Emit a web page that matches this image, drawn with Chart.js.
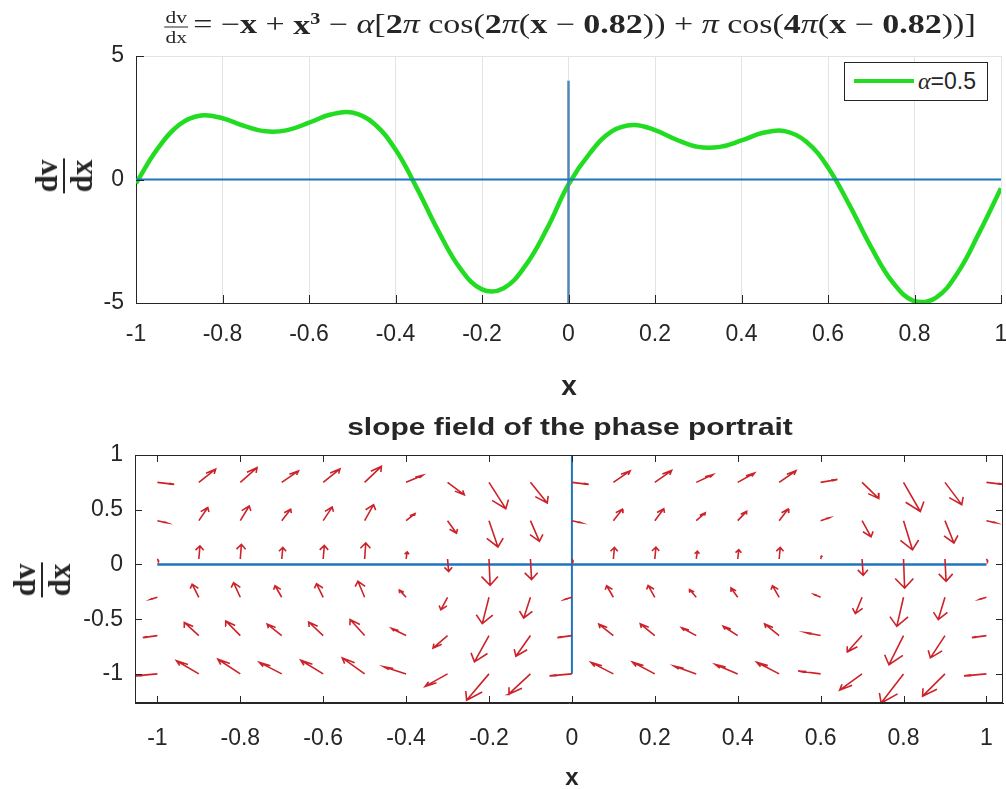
<!DOCTYPE html>
<html>
<head>
<meta charset="utf-8">
<script src="https://cdn.jsdelivr.net/npm/chart.js@4.4.1/dist/chart.umd.min.js"></script>
<style>
  body { margin: 0; background: #fff; width: 1006px; height: 789px; position: relative; overflow: hidden;
         font-family: "Liberation Sans", Arial, sans-serif; color: #262626; }
  canvas { position: absolute; left: 0; }
  .abs { position: absolute; white-space: nowrap; transform: translate(-50%, -50%); }
  .ttl { font-family: "Liberation Serif", "DejaVu Serif", serif; font-size: 27px; }
  .ttl b { font-weight: bold; }
  .frac { display: inline-flex; flex-direction: column; align-items: center; vertical-align: middle; line-height: 1; }
  .frac > span:first-child { border-bottom: 1.4px solid #262626; padding: 0 1px 1px; }
  .frac > span:last-child { padding-top: 1px; }
  .ttl .frac { font-size: 17px; margin-right: 4px; }
  .ylab { font-family: "Liberation Serif", "DejaVu Serif", serif; font-weight: bold; font-size: 31px; }
  .ylab .frac > span:first-child { border-bottom-width: 2.5px; }
  .xlab { font-weight: bold; font-size: 28px; }
  .sub { font-weight: bold; font-size: 23px; }
  #legend { position: absolute; left: 844px; top: 62px; width: 142px; height: 37px; border: 1px solid #262626;
            background: #fff; }
  #legend .swatch { position: absolute; left: 9px; top: 16px; width: 60px; height: 4px; background: #22dc22; }
  #legend .txt { position: absolute; left: 73px; top: 5px; font-size: 23px; }
  #legend i { font-family: "Liberation Serif", serif; font-size: 24px; }
</style>
</head>
<body>
<canvas id="topChart" width="1006" height="370" style="top:0"></canvas>
<canvas id="fieldChart" width="1006" height="409" style="top:380px"></canvas>

<div id="t1" class="abs ttl" style="left:570px; top:27px">
  <span class="frac"><span>dv</span><span>dx</span></span>= −<b>x</b> + <b>x<sup style="font-size:16px">3</sup></b> − <i>α</i>[<b>2</b><i>π</i> cos(<b>2</b><i>π</i>(<b>x</b> − <b>0.82</b>)) + <i>π</i> cos(<b>4</b><i>π</i>(<b>x</b> − <b>0.82</b>))]
</div>
<div class="abs ylab" style="left:64px; top:176px; transform:translate(-50%,-50%) rotate(-90deg)">
  <span class="frac"><span>dv</span><span>dx</span></span>
</div>
<div class="abs xlab" style="left:569px; top:386px">x</div>
<div id="legend"><div class="swatch"></div><div class="txt"><i>α</i>=0.5</div></div>

<div id="t2" class="abs sub" style="left:570px; top:427px">slope field of the phase portrait</div>
<div class="abs ylab" style="left:42px; top:580px; transform:translate(-50%,-50%) rotate(-90deg)">
  <span class="frac"><span>dv</span><span>dx</span></span>
</div>
<div class="abs xlab" style="left:572px; top:777px; font-size:24px">x</div>

<script>
// dv/dx curve (alpha = 0.5)
const curveX = [-1, -0.95, -0.9, -0.85, -0.8, -0.75, -0.7, -0.65, -0.6, -0.55, -0.5, -0.45, -0.4, -0.35,
  -0.3, -0.25, -0.2, -0.15, -0.1, -0.05, 0, 0.05, 0.1, 0.15, 0.2, 0.25, 0.3, 0.35, 0.4, 0.45, 0.5,
  0.55, 0.6, 0.65, 0.7, 0.75, 0.8, 0.85, 0.9, 0.95, 1];
const curveY = [-0.15, 1.25, 2.22, 2.59, 2.48, 2.17, 1.95, 2.00, 2.30, 2.63, 2.71, 2.27, 1.21, -0.37,
  -2.12, -3.61, -4.45, -4.40, -3.50, -2.00, -0.2, 1.08, 1.95, 2.21, 2.00, 1.61, 1.32, 1.32, 1.58, 1.89, 1.96,
  1.53, 0.49, -1.05, -2.75, -4.17, -4.93, -4.78, -3.77, -2.14, -0.35];

// blue reference lines
const axisLineX = [-1, 1];
const topStemY = [-5, 4];
const fieldStemY = [-1, 1];

// slope field grid
const fieldX = [-1, -0.9, -0.8, -0.7, -0.6, -0.5, -0.4, -0.3, -0.2, -0.1, 0, 0.1, 0.2, 0.3, 0.4, 0.5, 0.6, 0.7, 0.8, 0.9, 1];
const fieldY = [-1, -0.65, -0.3, 0.05, 0.4, 0.75];
const fieldSlope = [-0.34, 2.22, 2.48, 1.95, 2.30, 2.71, 1.21, -2.12, -4.45, -3.50, -0.34, 1.95, 2.00, 1.32, 1.58,
  1.96, 0.49, -2.75, -4.93, -3.77, -0.34];

// ticks
const xTicks = [-1, -0.8, -0.6, -0.4, -0.2, 0, 0.2, 0.4, 0.6, 0.8, 1];
const xTickLabels = ["-1", "-0.8", "-0.6", "-0.4", "-0.2", "0", "0.2", "0.4", "0.6", "0.8", "1"];
const topYTicks = [-5, 0, 5];
const topYTickLabels = ["-5", "0", "5"];
const fieldYTicks = [-1, -0.5, 0, 0.5, 1];
const fieldYTickLabels = ["-1", "-0.5", "0", "0.5", "1"];

const ink = "#262626";
const gridGray = "#e3e3e3";
const green = "#22dc22";
const blue = "#1f74bf";
const red = "#cc2229";

// ticks pointing into the plot, matlab style
const innerTicks = {
  id: "innerTicks",
  afterDraw(chart, args, opts) {
    const { ctx, chartArea: a, scales } = chart;
    const L = opts.len;
    ctx.save();
    ctx.strokeStyle = ink;
    ctx.lineWidth = 1;
    ctx.beginPath();
    scales.x.ticks.forEach((t) => {
      const px = Math.round(scales.x.getPixelForValue(t.value)) + 0.5;
      ctx.moveTo(px, a.bottom); ctx.lineTo(px, a.bottom - L);
      if (opts.box) { ctx.moveTo(px, a.top); ctx.lineTo(px, a.top + L); }
    });
    scales.y.ticks.forEach((t) => {
      const py = Math.round(scales.y.getPixelForValue(t.value)) + 0.5;
      ctx.moveTo(a.left, py); ctx.lineTo(a.left + L, py);
      if (opts.box) { ctx.moveTo(a.right, py); ctx.lineTo(a.right - L, py); }
    });
    ctx.stroke();
    if (opts.box) {
      ctx.strokeRect(Math.round(a.left) + 0.5, Math.round(a.top) + 0.5,
        Math.round(a.right - a.left) - 1, Math.round(a.bottom - a.top) - 1);
    }
    ctx.restore();
  }
};

function fixedTicks(values) {
  return (scale) => { scale.ticks = values.map((v) => ({ value: v })); };
}

const tickFont = { family: "'Liberation Sans', Arial, sans-serif", size: 23 };

// ---- top panel
new Chart(document.getElementById("topChart"), {
  type: "line",
  data: {
    datasets: [
      { data: axisLineX.map((x) => ({ x, y: 0 })), borderColor: blue, borderWidth: 2, pointRadius: 0, order: 0 },
      { data: topStemY.map((y) => ({ x: 0, y })), borderColor: "#4f86b3", borderWidth: 2.5, pointRadius: 0, order: 0 },
      { data: curveX.map((x, i) => ({ x, y: curveY[i] })), borderColor: green, borderWidth: 4.5, pointRadius: 0,
        tension: 0.4, order: 1 }
    ]
  },
  options: {
    responsive: false,
    animation: false,
    events: [],
    layout: { padding: { top: 56, right: 5, left: 0, bottom: 0 } },
    plugins: { legend: { display: false }, tooltip: { enabled: false }, innerTicks: { len: 8, box: false } },
    scales: {
      x: {
        type: "linear", min: -1, max: 1,
        afterBuildTicks: fixedTicks(xTicks),
        afterFit: (s) => { s.height = 67; s.paddingLeft = 0; s.paddingRight = 0; },
        grid: { color: gridGray, drawTicks: false },
        border: { color: ink, width: 1 },
        ticks: { font: tickFont, color: ink, padding: 18, maxRotation: 0, autoSkip: false,
                 callback: (v, i) => xTickLabels[i] }
      },
      y: {
        min: -5, max: 5,
        afterBuildTicks: fixedTicks(topYTicks),
        afterFit: (s) => { s.width = 136; },
        grid: { drawTicks: false, color: (c) => (c.tick && c.tick.value === 5 ? gridGray : "rgba(0,0,0,0)") },
        border: { color: ink, width: 1 },
        ticks: { font: tickFont, color: ink, padding: 12, callback: (v, i) => topYTickLabels[i] }
      }
    }
  },
  plugins: [innerTicks]
});

// ---- slope field (quiver of (v, dv/dx))
const arrowScale = 0.054, headLen = 0.33, headWide = 0.25;
const arrowPts = [];
fieldY.forEach((y0) => {
  fieldX.forEach((x0, i) => {
    const u = arrowScale * y0, v = arrowScale * fieldSlope[i];
    const x1 = x0 + u, y1 = y0 + v;
    arrowPts.push({ x: x0, y: y0 }, { x: x1, y: y1 }, { x: x1, y: null });
    arrowPts.push(
      { x: x1 - headLen * (u + headWide * v), y: y1 - headLen * (v - headWide * u) },
      { x: x1, y: y1 },
      { x: x1 - headLen * (u - headWide * v), y: y1 - headLen * (v + headWide * u) },
      { x: x1, y: null }
    );
  });
});

new Chart(document.getElementById("fieldChart"), {
  type: "line",
  data: {
    datasets: [
      { data: arrowPts, borderColor: red, borderWidth: 1.6, pointRadius: 0, spanGaps: false, tension: 0, order: 0 },
      { data: axisLineX.map((x) => ({ x, y: 0 })), borderColor: blue, borderWidth: 2.5, pointRadius: 0, order: 1 },
      { data: fieldStemY.map((y) => ({ x: 0, y })), borderColor: blue, borderWidth: 2, pointRadius: 0, order: 1 }
    ]
  },
  options: {
    responsive: false,
    animation: false,
    events: [],
    layout: { padding: { top: 75, right: 3, left: 0, bottom: 0 } },
    plugins: { legend: { display: false }, tooltip: { enabled: false }, innerTicks: { len: 7, box: true } },
    scales: {
      x: {
        type: "linear", min: -1.054, max: 1.04,
        afterBuildTicks: fixedTicks(xTicks),
        afterFit: (s) => { s.height = 86; s.paddingLeft = 0; s.paddingRight = 0; },
        grid: { display: false, drawTicks: false },
        border: { color: ink, width: 1 },
        ticks: { font: tickFont, color: ink, padding: 22, maxRotation: 0, autoSkip: false,
                 callback: (v, i) => xTickLabels[i] }
      },
      y: {
        min: -1.266, max: 1,
        afterBuildTicks: fixedTicks(fieldYTicks),
        afterFit: (s) => { s.width = 135; },
        grid: { display: false, drawTicks: false },
        border: { color: ink, width: 1 },
        ticks: { font: tickFont, color: ink, padding: 12, callback: (v, i) => fieldYTickLabels[i] }
      }
    }
  },
  plugins: [innerTicks]
});

// stretch the two titles to the width they take in the figure
[["t1", 812], ["t2", 445]].forEach(([id, w]) => {
  const el = document.getElementById(id);
  el.style.transform = "translate(-50%, -50%) scaleX(" + (w / el.offsetWidth) + ")";
});
</script>
</body>
</html>
